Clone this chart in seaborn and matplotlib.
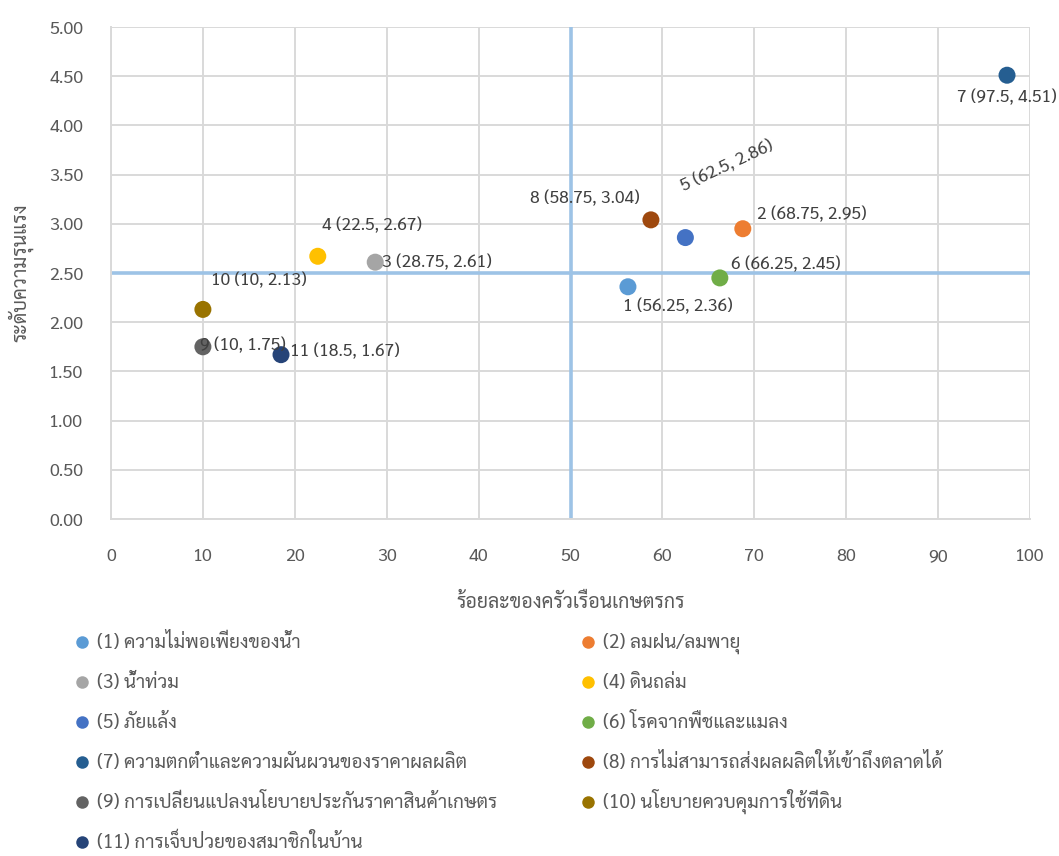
import matplotlib
matplotlib.use("Agg")
import matplotlib.pyplot as plt
from matplotlib.lines import Line2D
import pandas as pd
import seaborn as sns

# Risk factors: share of farm households affected (%) vs. severity score
ids = [1, 2, 3, 4, 5, 6, 7, 8, 9, 10, 11]
names = [
    "ความไม่พอเพียงของน้ำ",
    "ลมฝน/ลมพายุ",
    "น้ำท่วม",
    "ดินถล่ม",
    "ภัยแล้ง",
    "โรคจากพืชและแมลง",
    "ความตกต่ำและความผันผวนของราคาผลผลิต",
    "การไม่สามารถส่งผลผลิตให้เข้าถึงตลาดได้",
    "การเปลี่ยนแปลงนโยบายประกันราคาสินค้าเกษตร",
    "นโยบายควบคุมการใช้ที่ดิน",
    "การเจ็บป่วยของสมาชิกในบ้าน",
]
pct_households = [56.25, 68.75, 28.75, 22.5, 62.5, 66.25, 97.5, 58.75, 10, 10, 18.5]
severity = [2.36, 2.95, 2.61, 2.67, 2.86, 2.45, 4.51, 3.04, 1.75, 2.13, 1.67]
colors = ["#5B9BD5", "#ED7D31", "#A5A5A5", "#FFC000", "#4472C4", "#70AD47",
          "#255E91", "#9E480E", "#636363", "#997300", "#264478"]
x_ticks = [0, 10, 20, 30, 40, 50, 60, 70, 80, 90, 100]
y_ticks = [0.0, 0.5, 1.0, 1.5, 2.0, 2.5, 3.0, 3.5, 4.0, 4.5, 5.0]
x_mid, y_mid = 50, 2.5

# label placement: (dx px, dy px, horizontal alignment, rotation)
label_pos = {
    1: (-5, -20, "left", 0),
    2: (14, 14, "left", 0),
    3: (7, 0, "left", 0),
    4: (4, 31, "left", 0),
    5: (-4, 50, "left", 25),
    6: (11, 13, "left", 0),
    7: (0, -22, "center", 0),
    8: (-11, 21, "right", 0),
    9: (-3, 1, "left", 0),
    10: (8, 29, "left", 0),
    11: (9, 3, "left", 0),
}

sns.set_theme(style="white")
plt.rcParams["font.family"] = ["Sarabun", "DejaVu Sans"]

df = pd.DataFrame({
    "id": ids,
    "label": [f"({i}) {n}" for i, n in zip(ids, names)],
    "x": pct_households,
    "y": severity,
})
palette = dict(zip(df["label"], colors))

W, H = 1059, 856
fig = plt.figure(figsize=(W / 100, H / 100), dpi=100)
ax = fig.add_axes([111 / W, 1 - 519 / H, 919 / W, 492 / H])

ax.axvline(x_mid, color="#9DC3E6", lw=2.6, zorder=2)
ax.axhline(y_mid, color="#9DC3E6", lw=2.6, zorder=2)

sns.scatterplot(data=df, x="x", y="y", hue="label", palette=palette,
                s=150, linewidth=0, legend=False, ax=ax, zorder=3)

for i, xv, yv in zip(ids, pct_households, severity):
    dx, dy, ha, rot = label_pos[i]
    ax.annotate(f"{i} ({xv:g}, {yv:g})", (xv, yv), xytext=(dx, dy),
                textcoords="offset pixels", ha=ha, va="center",
                rotation=rot, rotation_mode="anchor",
                fontsize=12.6, color="#404040", zorder=4)

ax.set_xlim(0, 100)
ax.set_ylim(0, 5)
ax.set_xticks(x_ticks)
ax.set_yticks(y_ticks)
ax.set_xticklabels([str(t) for t in x_ticks])
ax.set_yticklabels([f"{t:.2f}" for t in y_ticks])
ax.tick_params(axis="both", length=0, labelsize=13, labelcolor="#595959")
ax.tick_params(axis="x", pad=21)
ax.tick_params(axis="y", pad=20)
ax.grid(True, color="#D9D9D9", lw=1.4, zorder=0)
ax.set_axisbelow(True)
for side in ["top", "right"]:
    ax.spines[side].set_visible(False)
for side in ["left", "bottom"]:
    ax.spines[side].set_color("#D9D9D9")
    ax.spines[side].set_linewidth(1.4)

ax.set_xlabel("ร้อยละของครัวเรือนเกษตรกร", fontsize=14, color="#595959", labelpad=20)
ax.set_ylabel("ระดับความรุนแรง", fontsize=14, color="#595959", labelpad=11)

# legend: two columns filled row by row, evenly spaced rows
col_x = [82, 588]
row_y0, row_step = 642, 40
for k, (lab, col) in enumerate(zip(df["label"], colors)):
    r, c = divmod(k, 2)
    mx, my = col_x[c] / W, 1 - (row_y0 + r * row_step) / H
    fig.add_artist(Line2D([mx], [my], marker="o", ls="", markersize=9,
                          markeredgewidth=0, color=col,
                          transform=fig.transFigure))
    fig.text(mx + 15 / W, my - 6 / H, lab, fontsize=13.6, color="#595959",
             ha="left", va="baseline")

fig.savefig("out.png", dpi=100)
